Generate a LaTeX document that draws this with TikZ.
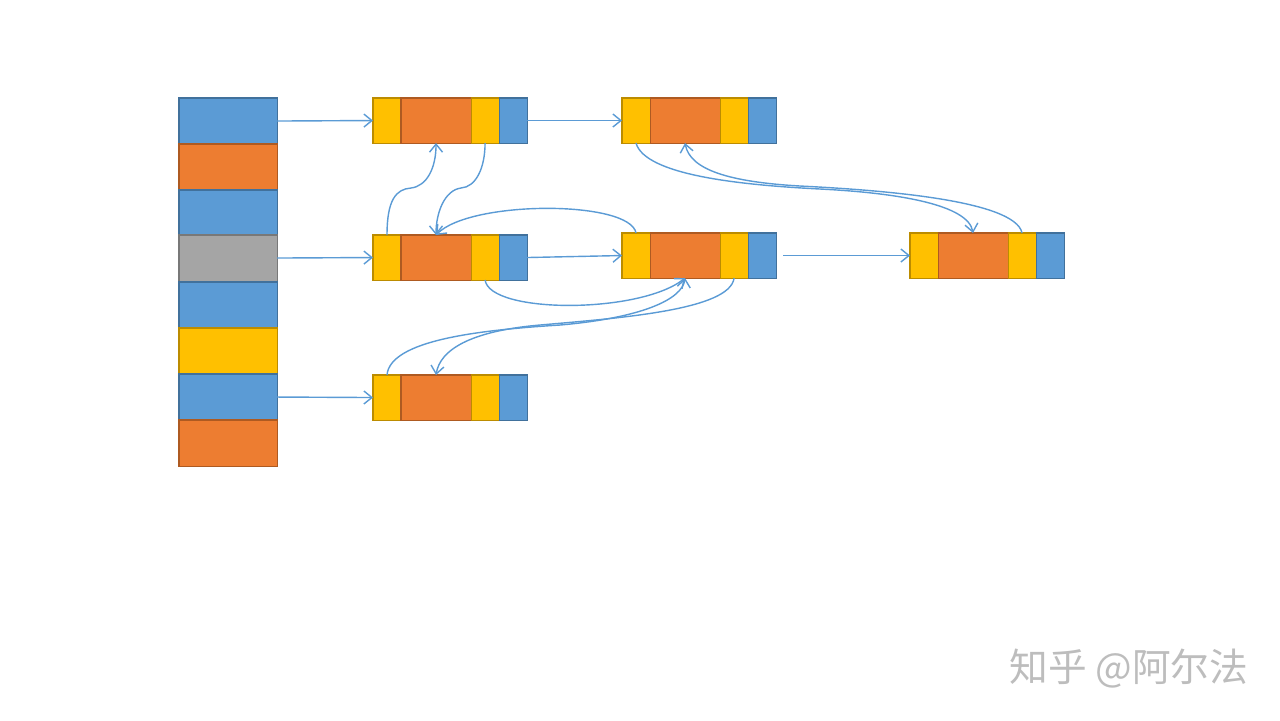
\documentclass[tikz,border=0pt]{standalone}
\usepackage{fontspec}
\newfontfamily\cjk{Noto Sans CJK SC}
\usetikzlibrary{arrows.meta}
\definecolor{cb}{HTML}{5B9BD5}\definecolor{cbd}{HTML}{41719C}
\definecolor{co}{HTML}{ED7D31}\definecolor{cod}{HTML}{AE5A21}
\definecolor{cy}{HTML}{FFC000}\definecolor{cyd}{HTML}{BC8C00}
\definecolor{cg}{HTML}{A5A5A5}\definecolor{cgd}{HTML}{787878}
\definecolor{ln}{HTML}{5B9BD5}
\definecolor{wmc}{HTML}{BDBDBD}
\tikzset{
 seg/.style={draw, line width=0.3pt, inner sep=0pt, outer sep=0pt, minimum height=0.45cm, anchor=north west},
 ybox/.style={seg, fill=cy, draw=cyd, minimum width=0.28cm},
 obox/.style={seg, fill=co, draw=cod, minimum width=0.70cm},
 bbox/.style={seg, fill=cb, draw=cbd, minimum width=0.28cm},
 cell/.style={draw, line width=0.3pt, inner sep=0pt, outer sep=0pt, minimum width=0.98cm, minimum height=0.46cm, anchor=north west},
 link/.style={draw=ln, line width=0.4pt, -{Straight Barb[length=0.08cm,width=0.13cm]}},
}
\newcommand\rec[3]{%
 \node[ybox] (#1a) at (#2,#3) {};
 \node[obox] (#1b) at (#1a.north east) {};
 \node[ybox] (#1c) at (#1b.north east) {};
 \node[bbox] (#1d) at (#1c.north east) {};
}
\begin{document}
\begin{tikzpicture}[x=0.01cm,y=-0.01cm]
\useasboundingbox (0,0) rectangle (1280,720);
% left column
\node[cell,fill=cb,draw=cbd] (L1) at (179,98) {};
\node[cell,fill=co,draw=cod] (L2) at (179,144) {};
\node[cell,fill=cb,draw=cbd] (L3) at (179,190) {};
\node[cell,fill=cg,draw=cgd] (L4) at (179,235) {};
\node[cell,fill=cb,draw=cbd] (L5) at (179,282) {};
\node[cell,fill=cy,draw=cyd] (L6) at (179,328) {};
\node[cell,fill=cb,draw=cbd] (L7) at (179,374) {};
\node[cell,fill=co,draw=cod] (L8) at (179,420) {};
% records
\rec{A}{373}{98}
\rec{B}{622}{98}
\rec{C}{373}{235}
\rec{D}{622}{233}
\rec{E}{910}{233}
\rec{F}{373}{375}
% straight links
\draw[link] (L1.east) -- (Aa.west);
\draw[link] (L4.east) -- (Ca.west);
\draw[link] (L7.east) -- (Fa.west);
\draw[link] (Ad.east) -- (Ba.west);
\draw[link] (Cd.east) -- (Da.west);
\draw[link,shorten <=0.07cm] (Dd.east) -- (Ea.west);
% curved links
\draw[link] (Ca.north) .. controls (387,200) and (396,189) .. (411,188) .. controls (427,186) and (436,168) .. (Ab.south);
\draw[link] (Ac.south) .. controls (485,168) and (476,187) .. (461,188) .. controls (445,190) and (436,212) .. (Cb.north);
\draw[link] (Da.north) .. controls (630,200) and (470,200) .. (Cb.north);
\draw[link] (Cc.south) .. controls (490,314) and (640,314) .. (Db.south);
\draw[link] (Fa.north) .. controls (390,340) and (480,330) .. (560,325) .. controls (640,318) and (682,300) .. (Db.south);
\draw[link] (Dc.south) .. controls (730,310) and (620,318) .. (540,325) .. controls (470,331) and (440,350) .. (Fb.north);
\draw[link] (Ba.south) .. controls (645,175) and (740,185) .. (820,189) .. controls (900,193) and (968,205) .. (Eb.north);
\draw[link] (Ec.north) .. controls (1015,200) and (880,190) .. (800,186) .. controls (730,182) and (690,170) .. (Bb.south);
% watermark
\node[font=\cjk\fontsize{11}{13}\selectfont, text=wmc] (wm) at (1129,669) {知乎 @阿尔法};
\end{tikzpicture}
\end{document}
